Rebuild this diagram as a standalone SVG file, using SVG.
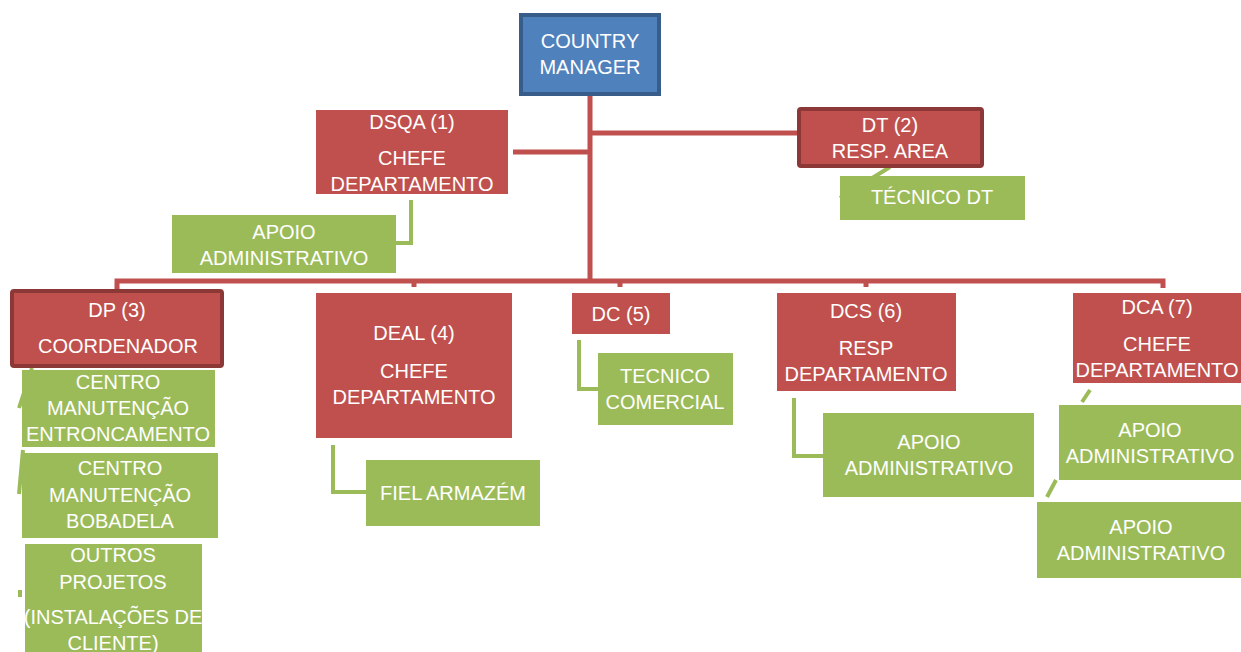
<svg xmlns="http://www.w3.org/2000/svg" width="1241" height="652" viewBox="0 0 1241 652">
<style>
.red{fill:#C0504D}
.redb{fill:#C0504D;stroke:#8C3836;stroke-width:4}
.grn{fill:#9BBB59}
.blue{fill:#4F81BD;stroke:#385D8A;stroke-width:4}
.t{font-family:"Liberation Sans",Arial,sans-serif;font-size:20px;fill:#fff;text-anchor:middle}
.rl{stroke:#C0504D;stroke-width:5;fill:none}
.gl{stroke:#9BBB59;stroke-width:4;fill:none}
</style>
<rect width="1241" height="652" fill="#fff"/>
<g id="connectors">
<path class="rl" d="M590 96V281M590 133H798M513 152H590M117 290V281H1163V288M414 281V287M620 281V287M866 281V287"/>
<path class="gl" d="M411 200V243H396M333 445V492H366M579 340V389H598M794 398V456H823"/>
<path class="gl" d="M890 167L840 198M32 368L19 408M23 450L19 494M20 590V597M1090 390L1082 402M1056 480L1047 497"/>
</g>
<g id="cm"><rect class="blue" x="521" y="15" width="138" height="79"/><text class="t" x="590" y="48">COUNTRY</text><text class="t" x="590" y="74">MANAGER</text></g>
<g id="dsqa"><rect class="red" x="316" y="110" width="192" height="84"/><text class="t" x="412" y="129">DSQA (1)</text><text class="t" x="412" y="165">CHEFE</text><text class="t" x="412" y="191">DEPARTAMENTO</text></g>
<g id="dt"><rect class="redb" x="799" y="109" width="183" height="57" rx="2"/><text class="t" x="890" y="132">DT (2)</text><text class="t" x="890" y="158">RESP. AREA</text></g>
<g id="tecdt"><rect class="grn" x="840" y="176" width="185" height="44"/><text class="t" x="932" y="204">TÉCNICO DT</text></g>
<g id="apoio1"><rect class="grn" x="172" y="215" width="224" height="58"/><text class="t" x="284" y="239">APOIO</text><text class="t" x="284" y="265">ADMINISTRATIVO</text></g>
<g id="dp"><rect class="redb" x="12" y="291" width="210" height="75" rx="2"/><text class="t" x="117" y="317">DP (3)</text><text class="t" x="118" y="353">COORDENADOR</text></g>
<g id="entr"><rect class="grn" x="22" y="370" width="193" height="77"/><text class="t" x="118" y="389">CENTRO</text><text class="t" x="118" y="415">MANUTENÇÃO</text><text class="t" x="118" y="441">ENTRONCAMENTO</text></g>
<g id="bob"><rect class="grn" x="22" y="453" width="196" height="85"/><text class="t" x="120" y="475">CENTRO</text><text class="t" x="120" y="502">MANUTENÇÃO</text><text class="t" x="120" y="528">BOBADELA</text></g>
<g id="outros"><rect class="grn" x="25" y="544" width="177" height="110"/><text class="t" x="113" y="562">OUTROS</text><text class="t" x="113" y="589">PROJETOS</text><text class="t" x="113" y="624">(INSTALAÇÕES DE</text><text class="t" x="113" y="650">CLIENTE)</text></g>
<g id="deal"><rect class="red" x="316" y="293" width="196" height="145"/><text class="t" x="414" y="340">DEAL (4)</text><text class="t" x="414" y="378">CHEFE</text><text class="t" x="414" y="404">DEPARTAMENTO</text></g>
<g id="fiel"><rect class="grn" x="366" y="460" width="174" height="66"/><text class="t" x="453" y="500">FIEL ARMAZÉM</text></g>
<g id="dc"><rect class="red" x="572" y="293" width="98" height="41"/><text class="t" x="621" y="321">DC (5)</text></g>
<g id="tcom"><rect class="grn" x="598" y="353" width="135" height="72"/><text class="t" x="665" y="383">TECNICO</text><text class="t" x="665" y="409">COMERCIAL</text></g>
<g id="dcs"><rect class="red" x="777" y="293" width="179" height="98"/><text class="t" x="866" y="318">DCS (6)</text><text class="t" x="866" y="355">RESP</text><text class="t" x="866" y="381">DEPARTAMENTO</text></g>
<g id="apoio2"><rect class="grn" x="823" y="413" width="211" height="84"/><text class="t" x="929" y="449">APOIO</text><text class="t" x="929" y="475">ADMINISTRATIVO</text></g>
<g id="dca"><rect class="red" x="1073" y="293" width="168" height="90"/><text class="t" x="1157" y="314">DCA (7)</text><text class="t" x="1157" y="351">CHEFE</text><text class="t" x="1157" y="377">DEPARTAMENTO</text></g>
<g id="apoio3"><rect class="grn" x="1059" y="405" width="182" height="75"/><text class="t" x="1150" y="437">APOIO</text><text class="t" x="1150" y="463">ADMINISTRATIVO</text></g>
<g id="apoio4"><rect class="grn" x="1037" y="502" width="204" height="76"/><text class="t" x="1141" y="534">APOIO</text><text class="t" x="1141" y="560">ADMINISTRATIVO</text></g>
</svg>
